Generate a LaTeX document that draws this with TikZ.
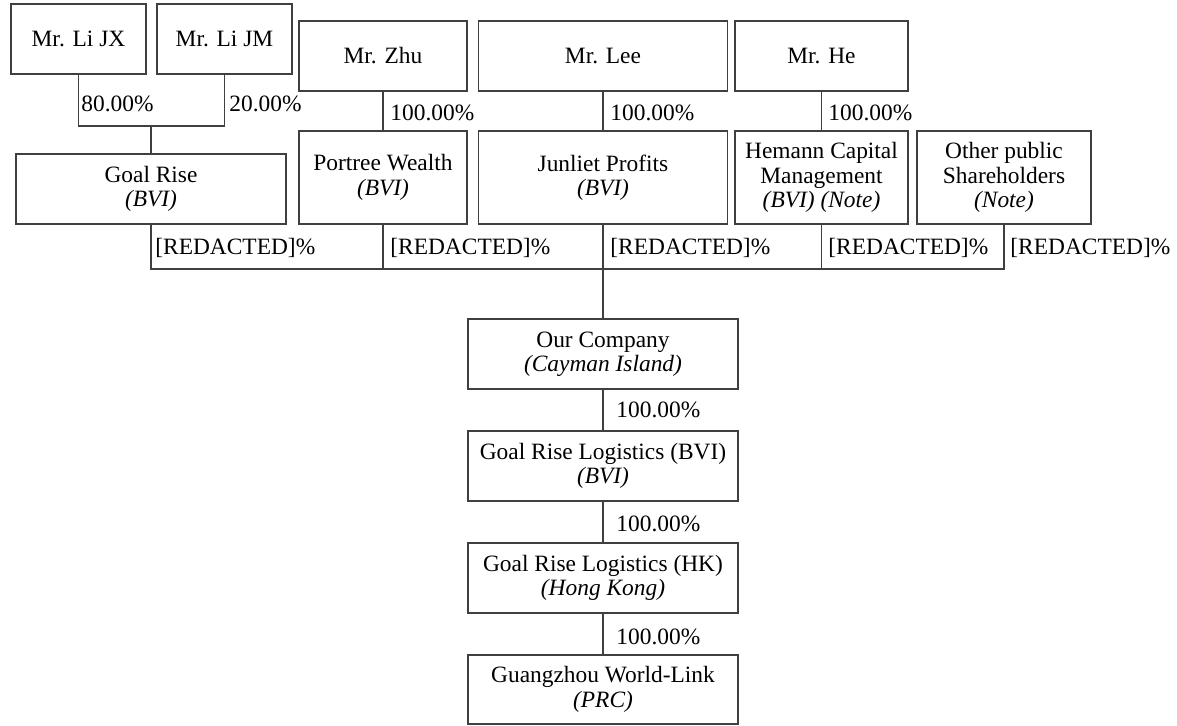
\documentclass[tikz,border=0pt]{standalone}
\usepackage{fontspec}
\setmainfont{Liberation Serif}
\begin{document}
\begin{tikzpicture}[x=0.5pt,y=-0.5pt,
  every node/.style={font=\fontsize{11.7}{12.2}\selectfont},
  box/.style={draw=black!75, line width=0.6pt, align=center, inner sep=1pt, minimum height=35pt},
  tall/.style={box, minimum height=46.5pt},
  pct/.style={anchor=west, inner sep=0pt},
  link/.style={draw=black!75, line width=0.6pt}]
\useasboundingbox (0,0) rectangle (1177,725);
% top row
\node[box, minimum width=67.5pt] (lijx) at (78.5,39) {Mr. Li JX};
\node[box, minimum width=67.5pt] (lijm) at (224.5,39) {Mr. Li JM};
\node[box, minimum width=84pt] (zhu) at (383,56) {Mr. Zhu};
\node[box, minimum width=124.5pt] (lee) at (603,56) {Mr. Lee};
\node[box, minimum width=86.5pt] (he) at (821.5,56) {Mr. He};
% second row
\node[box, minimum width=135pt] (goal) at (151,189) {Goal Rise\\\textit{(BVI)}};
\node[tall, minimum width=84pt] (portree) at (383,177.5) {Portree Wealth\\\textit{(BVI)}};
\node[tall, minimum width=124.5pt] (junliet) at (603,177.5) {Junliet Profits\\\textit{(BVI)}};
\node[tall, minimum width=86.5pt] (hemann) at (821.5,177.5) {Hemann Capital\\Management\\\textit{(BVI) (Note)}};
\node[tall, minimum width=87pt] (other) at (1004,177.5) {Other public\\Shareholders\\\textit{(Note)}};
% chain
\node[box, minimum width=135pt] (ourco) at (603,354) {Our Company\\\textit{(Cayman Island)}};
\node[box, minimum width=135pt] (grbvi) at (603,466) {Goal Rise Logistics (BVI)\\\textit{(BVI)}};
\node[box, minimum width=135pt] (grhk) at (603,578) {Goal Rise Logistics (HK)\\\textit{(Hong Kong)}};
\node[box, minimum width=135pt, minimum height=34.5pt] (gz) at (603,689.5) {Guangzhou World-Link\\\textit{(PRC)}};
% connectors
\coordinate (j1) at (151,126);
\draw[link] (lijx.south) |- (j1);
\draw[link] (lijm.south) |- (j1);
\draw[link] (j1) -- (goal.north);
\draw[link] (zhu.south) -- (portree.north);
\draw[link] (lee.south) -- (junliet.north);
\draw[link] (he.south) -- (hemann.north);
\coordinate (busL) at (151,269);
\coordinate (busR) at (1004,269);
\draw[link] (goal.south) -- (busL) -- (busR) -- (other.south);
\draw[link] (portree.south) -- (portree.south |- busL);
\draw[link] (hemann.south) -- (hemann.south |- busL);
\draw[link] (junliet.south) -- (ourco.north);
\draw[link] (ourco.south) -- (grbvi.north);
\draw[link] (grbvi.south) -- (grhk.north);
\draw[link] (grhk.south) -- (gz.north);
% labels
\node[pct] (p1) at (81,104) {80.00\%};
\node[pct] (p2) at (229,104) {20.00\%};
\node[pct] (p3) at (390,113) {100.00\%};
\node[pct] (p4) at (610,113) {100.00\%};
\node[pct] (p5) at (828,113) {100.00\%};
\node[pct] (r1) at (155,248) {[REDACTED]\%};
\node[pct] (r2) at (390,248) {[REDACTED]\%};
\node[pct] (r3) at (610,248) {[REDACTED]\%};
\node[pct] (r4) at (828,248) {[REDACTED]\%};
\node[pct] (r5) at (1010,248) {[REDACTED]\%};
\node[pct] (c1) at (616,410) {100.00\%};
\node[pct] (c2) at (616,524) {100.00\%};
\node[pct] (c3) at (616,637) {100.00\%};
\end{tikzpicture}
\end{document}
